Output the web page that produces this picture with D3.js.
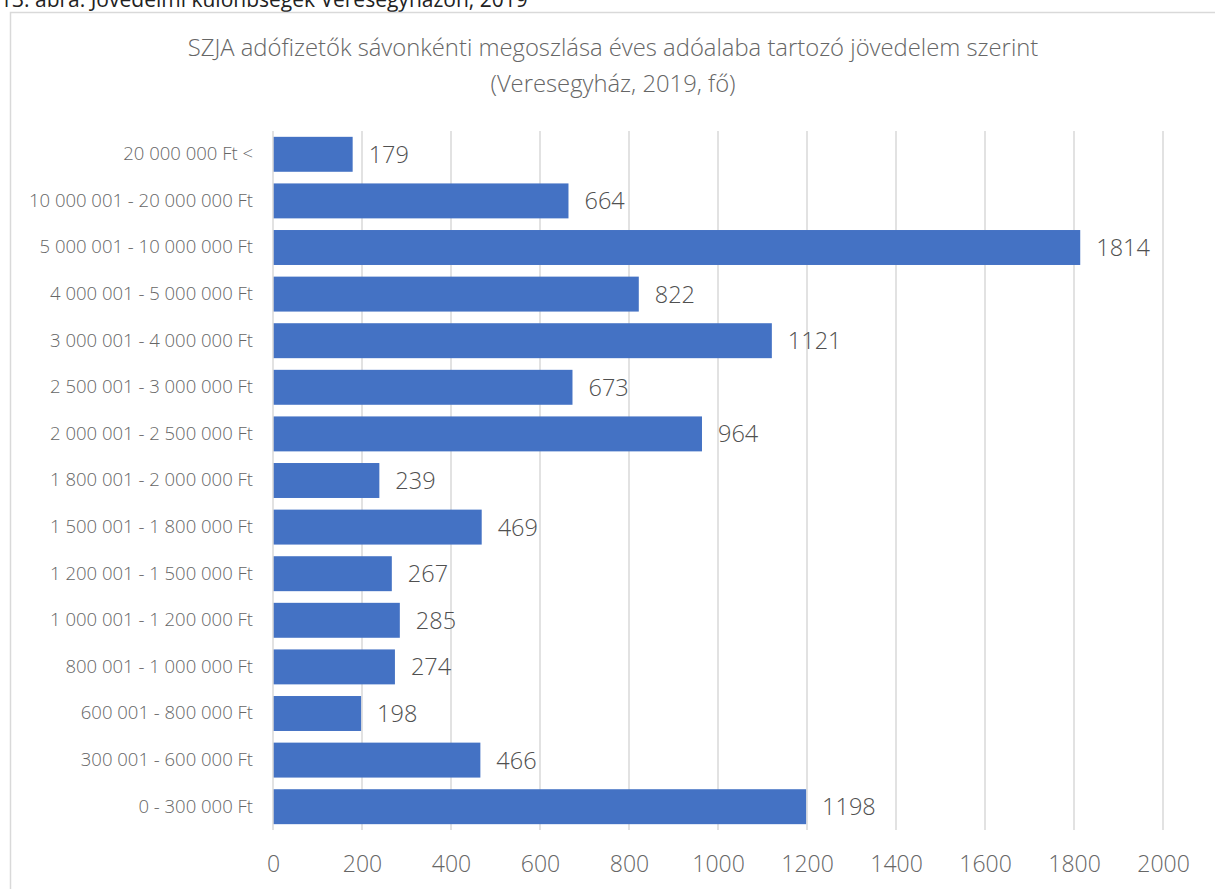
<!DOCTYPE html>
<html>
<head>
<meta charset="utf-8">
<script src="https://cdn.jsdelivr.net/npm/d3@7"></script>
<style>
  html, body { margin: 0; padding: 0; background: #fff; }
  svg { display: block; }
</style>
</head>
<body>
<svg id="chart" width="1215" height="889"></svg>
<script>
const captionText = "13. ábra: Jövedelmi különbségek Veresegyházon, 2019";
const titleLines = [
  "SZJA adófizetők sávonkénti megoszlása éves adóalaba tartozó jövedelem szerint",
  "(Veresegyház, 2019, fő)"
];
const categories = [
  "20 000 000 Ft <",
  "10 000 001 - 20 000 000 Ft",
  "5 000 001 - 10 000 000 Ft",
  "4 000 001 - 5 000 000 Ft",
  "3 000 001 - 4 000 000 Ft",
  "2 500 001 - 3 000 000 Ft",
  "2 000 001 - 2 500 000 Ft",
  "1 800 001 - 2 000 000 Ft",
  "1 500 001 - 1 800 000 Ft",
  "1 200 001 - 1 500 000 Ft",
  "1 000 001 - 1 200 000 Ft",
  "800 001 - 1 000 000 Ft",
  "600 001 - 800 000 Ft",
  "300 001 - 600 000 Ft",
  "0 - 300 000 Ft"
];
const values = [179, 664, 1814, 822, 1121, 673, 964, 239, 469, 267, 285, 274, 198, 466, 1198];
const xTicks = [0, 200, 400, 600, 800, 1000, 1200, 1400, 1600, 1800, 2000];

const svg = d3.select("#chart");
const font = "'Open Sans', 'Noto Sans', sans-serif";

// caption (partially cut at top, as in the reference)
svg.append("text")
  .attr("x", 0).attr("y", 7)
  .attr("font-family", font).attr("font-size", 21)
  .attr("fill", "#222")
  .text(captionText);

// chart frame
svg.append("rect")
  .attr("x", 10.5).attr("y", 12.5)
  .attr("width", 1230).attr("height", 900)
  .attr("fill", "#fff")
  .attr("stroke", "#d9d9d9").attr("stroke-width", 1.5);

// title
svg.append("g").selectAll("text").data(titleLines).join("text")
  .attr("x", 613).attr("y", (d, i) => 56 + i * 36)
  .attr("text-anchor", "middle")
  .attr("font-family", font).attr("font-weight", 300).attr("font-size", 23.8)
  .attr("fill", "#666")
  .text(d => d);

const x = d3.scaleLinear().domain([0, 2000]).range([273, 1163]);
const y = d3.scaleBand().domain(categories).range([131, 830]).paddingInner(0.25).paddingOuter(0.125);

// gridlines
svg.append("g").selectAll("line").data(xTicks.slice(1)).join("line")
  .attr("x1", d => x(d)).attr("x2", d => x(d))
  .attr("y1", 131).attr("y2", 830)
  .attr("stroke", "#d9d9d9").attr("stroke-width", 1.5);

// bars
svg.append("g").selectAll("rect").data(values).join("rect")
  .attr("x", x(0))
  .attr("y", (d, i) => y(categories[i]))
  .attr("width", d => x(d) - x(0))
  .attr("height", y.bandwidth())
  .attr("fill", "#4472c4");

// axis line (vertical at 0)
svg.append("line")
  .attr("x1", x(0)).attr("x2", x(0))
  .attr("y1", 131).attr("y2", 830)
  .attr("stroke", "#d9d9d9").attr("stroke-width", 1.5);

// value labels
svg.append("g").selectAll("text").data(values).join("text")
  .attr("x", d => x(d) + 16)
  .attr("y", (d, i) => y(categories[i]) + y.bandwidth() / 2)
  .attr("dy", "0.36em")
  .attr("font-family", font).attr("font-weight", 300).attr("font-size", 23.5)
  .attr("fill", "#505050")
  .text(d => d);

// y axis labels
const yAxis = d3.axisLeft(y).tickSize(0).tickPadding(20);
const yg = svg.append("g").attr("transform", `translate(${x(0)},0)`).call(yAxis);
yg.select(".domain").remove();
yg.selectAll("text")
  .attr("font-family", font).attr("font-weight", 300).attr("font-size", 18.5)
  .attr("fill", "#666");

// x axis labels
const xAxis = d3.axisBottom(x).tickValues(xTicks).tickSize(0).tickPadding(26).tickFormat(d3.format("d"));
const xg = svg.append("g").attr("transform", "translate(0,830)").call(xAxis);
xg.select(".domain").remove();
xg.selectAll("text")
  .attr("font-family", font).attr("font-weight", 300).attr("font-size", 23)
  .attr("fill", "#666");
</script>
</body>
</html>
